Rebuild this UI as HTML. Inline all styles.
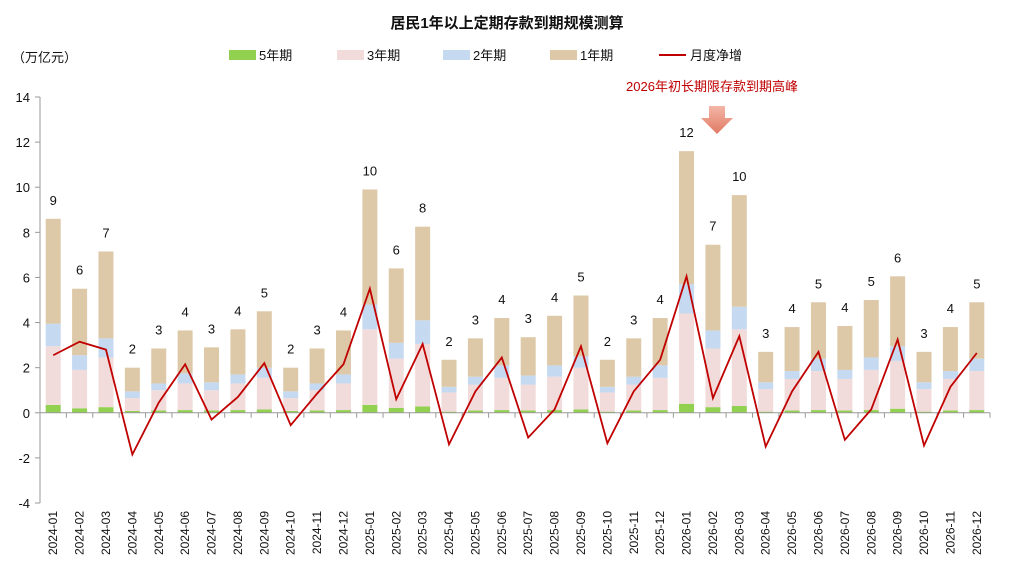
<!DOCTYPE html>
<html><head><meta charset="utf-8"><style>
body{margin:0;background:#fff;}
svg text{font-family:"Liberation Sans","Noto Sans CJK SC",sans-serif;}
</style></head><body>
<svg id="chart" width="1013" height="576" xmlns="http://www.w3.org/2000/svg">
<text x="507" y="28" text-anchor="middle" font-size="15" font-weight="bold" fill="#111">居民1年以上定期存款到期规模测算</text>
<text x="12" y="62" font-size="13" fill="#111">（万亿元）</text>
<g font-size="13" fill="#111">
<rect x="229" y="50" width="27" height="10" fill="#92d050"/><text x="259" y="60">5年期</text>
<rect x="337" y="50" width="27" height="10" fill="#f2dcdb"/><text x="367" y="60">3年期</text>
<rect x="443" y="50" width="27" height="10" fill="#c5d9f1"/><text x="473" y="60">2年期</text>
<rect x="550" y="50" width="27" height="10" fill="#ddc9a8"/><text x="580" y="60">1年期</text>
<line x1="659" y1="55" x2="686" y2="55" stroke="#c00000" stroke-width="2"/><text x="690" y="60">月度净增</text>
</g>
<text x="712" y="91" text-anchor="middle" font-size="13" fill="#c00000">2026年初长期限存款到期高峰</text>
<defs><linearGradient id="ag" x1="0" y1="0" x2="0" y2="1"><stop offset="0" stop-color="#f4b6a6"/><stop offset="1" stop-color="#e07a64"/></linearGradient></defs>
<polygon points="709,106 725,106 725,118 733,118 717,134 701,118 709,118" fill="url(#ag)"/>
<g id="plot"></g>
</svg>
<script>
const categories=["2024-01","2024-02","2024-03","2024-04","2024-05","2024-06","2024-07","2024-08","2024-09","2024-10","2024-11","2024-12","2025-01","2025-02","2025-03","2025-04","2025-05","2025-06","2025-07","2025-08","2025-09","2025-10","2025-11","2025-12","2026-01","2026-02","2026-03","2026-04","2026-05","2026-06","2026-07","2026-08","2026-09","2026-10","2026-11","2026-12"];
const y5=[0.35,0.2,0.25,0.08,0.1,0.12,0.1,0.12,0.15,0.08,0.1,0.12,0.35,0.22,0.28,0.05,0.1,0.12,0.1,0.12,0.15,0.05,0.1,0.12,0.4,0.25,0.3,0.05,0.1,0.12,0.1,0.12,0.18,0.05,0.1,0.12];
const y3=[2.6,1.7,2.2,0.57,0.9,1.18,0.9,1.18,1.4,0.57,0.9,1.18,3.35,2.18,2.77,0.85,1.15,1.43,1.15,1.48,1.85,0.85,1.15,1.43,4.0,2.6,3.4,1.0,1.4,1.73,1.4,1.78,2.12,1.0,1.4,1.73];
const y2=[1.0,0.65,0.85,0.3,0.3,0.45,0.35,0.4,0.45,0.3,0.3,0.4,1.1,0.7,1.05,0.25,0.35,0.55,0.4,0.5,0.5,0.25,0.35,0.55,1.3,0.8,1.0,0.3,0.35,0.55,0.4,0.55,0.65,0.3,0.35,0.55];
const y1=[4.65,2.95,3.85,1.05,1.55,1.9,1.55,2.0,2.5,1.05,1.55,1.95,5.1,3.3,4.15,1.2,1.7,2.1,1.7,2.2,2.7,1.2,1.7,2.1,5.9,3.8,4.95,1.35,1.95,2.5,1.95,2.55,3.1,1.35,1.95,2.5];
const netAdd=[2.55,3.15,2.8,-1.85,0.45,2.15,-0.3,0.7,2.2,-0.55,0.85,2.15,5.5,0.6,3.05,-1.4,0.95,2.45,-1.1,0.15,2.95,-1.35,0.95,2.35,6.05,0.65,3.4,-1.5,0.95,2.7,-1.2,0.15,3.25,-1.45,1.15,2.65];
const totalLabels=["9","6","7","2","3","4","3","4","5","2","3","4","10","6","8","2","3","4","3","4","5","2","3","4","12","7","10","3","4","5","4","5","6","3","4","5"];
const yTicks=[14,12,10,8,6,4,2,0,-2,-4];

const NS="http://www.w3.org/2000/svg";
const plot=document.getElementById('plot');
const x0=40,x1=990,yTop=97,yBot=503,vMax=14,vMin=-4;
const step=(x1-x0)/categories.length;
function xs(i){return x0+step*(i+0.5);}
function ys(v){return yTop+(vMax-v)/(vMax-vMin)*(yBot-yTop);}
function mk(tag,attrs){const e=document.createElementNS(NS,tag);for(const k in attrs)e.setAttribute(k,attrs[k]);plot.appendChild(e);return e;}

let ax=mk('line',{x1:x0,y1:yTop,x2:x0,y2:yBot,stroke:'#999','stroke-width':1});


yTicks.forEach(v=>{
  const t=mk('line',{x1:x0-5,y1:ys(v),x2:x0,y2:ys(v),stroke:'#999'});
  
  
  const l=mk('text',{x:x0-10,y:ys(v)+5,'text-anchor':'end','font-size':13,fill:'#111'});
  l.textContent=v;
  
  
});
const colors=['#92d050','#f2dcdb','#c5d9f1','#ddc9a8'];
const segNames=['bar-5y','bar-3y','bar-2y','bar-1y'];
const bw=15;
categories.forEach((c,i)=>{
  let base=0;
  [y5[i],y3[i],y2[i],y1[i]].forEach((v,k)=>{
    const r=mk('rect',{x:xs(i)-bw/2,y:ys(base+v),width:bw,height:ys(base)-ys(base+v),fill:colors[k]});
    
    
    base+=v;
  });
  const t=mk('text',{x:xs(i),y:ys(base)-14,'text-anchor':'middle','font-size':13,fill:'#111'});
  t.textContent=totalLabels[i];
  
  
  const xl=mk('text',{transform:`translate(${xs(i)+4},${yBot+8}) rotate(-90)`,'text-anchor':'end','font-size':12,fill:'#111'});
  xl.textContent=c;
  
  
});
let xa=mk('line',{x1:x0,y1:ys(0),x2:x1,y2:ys(0),stroke:'#999'});


for(let i=1;i<=categories.length;i++){
  const t=mk('line',{x1:x0+step*i,y1:ys(0),x2:x0+step*i,y2:ys(0)+5,stroke:'#999'});
  
  
}
const pl=mk('polyline',{points:netAdd.map((v,i)=>xs(i)+','+ys(v)).join(' '),fill:'none',stroke:'#c00000','stroke-width':1.8});


</script>
</body></html>
